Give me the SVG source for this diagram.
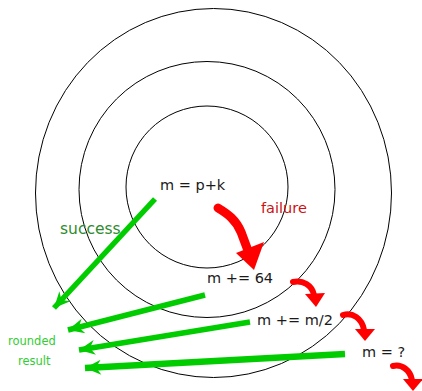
<svg xmlns="http://www.w3.org/2000/svg" width="422" height="391" viewBox="0 0 422 391">
<style>
.ring{fill:none;stroke:#000;stroke-width:1}
.lbl{font-family:"DejaVu Sans",sans-serif;font-size:14.5px;fill:#1a1a1a}
.fail{font-family:"DejaVu Sans",sans-serif;font-size:14.5px;fill:#cc1111}
.succ{font-family:"DejaVu Sans",sans-serif;font-size:15.5px;fill:#2e8b2e}
.res{font-family:"DejaVu Sans",sans-serif;font-size:11.5px;fill:#33cc33}
.ok{fill:none;stroke:#00cc00;stroke-width:5.5;marker-end:url(#gh)}
.bad{fill:none;stroke:#ff0000;stroke-linecap:round}
.badh{fill:#ff0000}
</style>
<defs>
<marker id="gh" markerUnits="userSpaceOnUse" markerWidth="20" markerHeight="20" viewBox="-18 -10 20 20" refX="0" refY="0" orient="auto">
<path d="M0,0 L-16,-7.5 L-11,0 L-16,7.5 Z" fill="#00cc00"/>
</marker>
</defs>
<g id="rings">
<ellipse class="ring" cx="213.5" cy="193" rx="178" ry="184.5"/>
<circle class="ring" cx="207" cy="189.5" r="128"/>
<circle class="ring" cx="207" cy="187" r="81"/>
</g>
<g id="connectors">
<line class="ok" x1="155" y1="199" x2="54" y2="308"/>
<line class="ok" x1="205" y1="295" x2="68" y2="330"/>
<line class="ok" x1="250" y1="322" x2="79" y2="350"/>
<line class="ok" x1="345" y1="354" x2="85" y2="368" style="stroke-width:6.5"/>
<path class="bad" d="M218,208 C228,214 236,220 241,232 L247,248" stroke-width="9"/>
<polygon class="badh" points="236,253 264,242 254,270"/>
<path class="bad" d="M293,282 C303,280 312,285 314,295" stroke-width="6"/>
<polygon class="badh" points="305,294 325,293 316,307"/>
<path class="bad" d="M343,315 C352,312 362,318 364,330" stroke-width="6"/>
<polygon class="badh" points="355,329 375,329 365,341"/>
<path class="bad" d="M393,366 C402,364 410,370 412,380" stroke-width="6"/>
<polygon class="badh" points="403,379 423,379 413,391"/>
</g>
<g id="n-start"><text class="lbl" x="160" y="190">m = p+k</text></g>
<g id="n-failure"><text class="fail" x="261" y="213">failure</text></g>
<g id="n-success"><text class="succ" x="60" y="234">success</text></g>
<g id="n-64"><text class="lbl" x="207" y="283">m += 64</text></g>
<g id="n-half"><text class="lbl" x="257" y="325">m += m/2</text></g>
<g id="n-q"><text class="lbl" x="362" y="357">m = ?</text></g>
<g id="n-result">
<text class="res" x="8" y="345">rounded</text>
<text class="res" x="18" y="365">result</text>
</g>
</svg>
